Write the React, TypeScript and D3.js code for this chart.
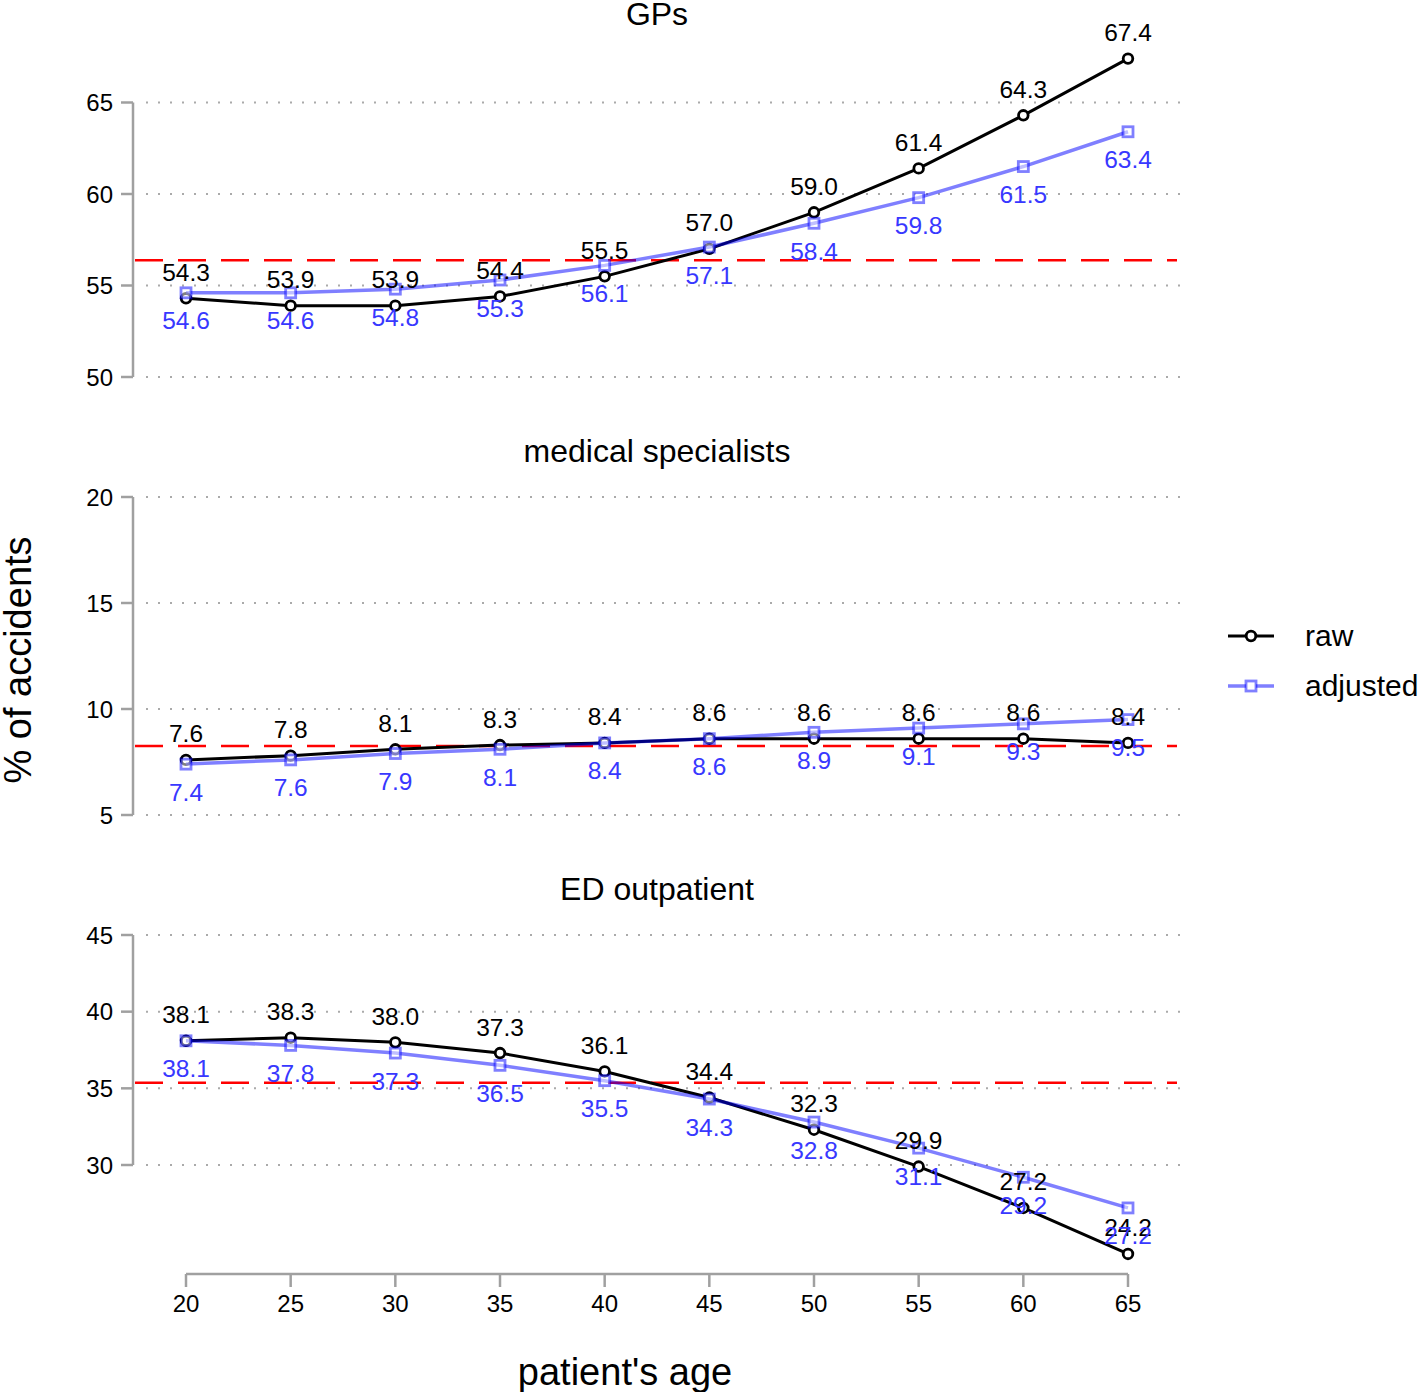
import React from "react";
import * as d3 from "d3";

const ages = [20, 25, 30, 35, 40, 45, 50, 55, 60, 65];

const gpRaw = [54.3, 53.9, 53.9, 54.4, 55.5, 57.0, 59.0, 61.4, 64.3, 67.4];
const gpAdjusted = [54.6, 54.6, 54.8, 55.3, 56.1, 57.1, 58.4, 59.8, 61.5, 63.4];
const specRaw = [7.6, 7.8, 8.1, 8.3, 8.4, 8.6, 8.6, 8.6, 8.6, 8.4];
const specAdjusted = [7.4, 7.6, 7.9, 8.1, 8.4, 8.6, 8.9, 9.1, 9.3, 9.5];
const edRaw = [38.1, 38.3, 38.0, 37.3, 36.1, 34.4, 32.3, 29.9, 27.2, 24.2];
const edAdjusted = [38.1, 37.8, 37.3, 36.5, 35.5, 34.3, 32.8, 31.1, 29.2, 27.2];

const panelTitles = ["GPs", "medical specialists", "ED outpatient"];
const yTicks = [
  [50, 55, 60, 65],
  [5, 10, 15, 20],
  [30, 35, 40, 45],
];
const overallMeans = [56.38, 8.25, 35.37];

const FONT = "'Liberation Sans', Arial, Helvetica, sans-serif";
const AXIS_GREY = "#a0a0a0";
const ADJ_LINE = "rgba(0,0,255,0.5)";
const ADJ_TEXT = "#3838ff";

const x = d3.scaleLinear().domain([20, 65]).range([186, 1128]);
const panelRanges: [number, number][] = [
  [377, 102.5],
  [815, 497],
  [1165, 935],
];
const titleBaselines = [25, 462, 900];

const plotLeft = 133;
const plotRight = 1181;

function Panel({ idx, raw, adj }: { idx: number; raw: number[]; adj: number[] }) {
  const ticks = yTicks[idx];
  const y = d3
    .scaleLinear()
    .domain([ticks[0], ticks[ticks.length - 1]])
    .range(panelRanges[idx]);
  const line = d3
    .line<number>()
    .x((_, i) => x(ages[i]))
    .y((d) => y(d));
  const top = y(ticks[ticks.length - 1]);
  const bottom = y(ticks[0]);

  return (
    <g>
      <text
        x={(plotLeft + plotRight) / 2}
        y={titleBaselines[idx]}
        textAnchor="middle"
        fontSize={32}
        fontFamily={FONT}
      >
        {panelTitles[idx]}
      </text>
      {ticks.map((t) => (
        <g key={t}>
          <line
            x1={146}
            x2={plotRight}
            y1={y(t)}
            y2={y(t)}
            stroke="#aaaaaa"
            strokeWidth={2}
            strokeDasharray="2,10"
          />
          <line x1={plotLeft - 12} x2={plotLeft} y1={y(t)} y2={y(t)} stroke={AXIS_GREY} strokeWidth={2.5} />
          <text
            x={113}
            y={y(t) + 8.5}
            textAnchor="end"
            fontSize={24}
            fontFamily={FONT}
          >
            {t}
          </text>
        </g>
      ))}
      <line x1={plotLeft} x2={plotLeft} y1={top} y2={bottom} stroke={AXIS_GREY} strokeWidth={2.5} />
      <line
        x1={135}
        x2={1177}
        y1={y(overallMeans[idx])}
        y2={y(overallMeans[idx])}
        stroke="red"
        strokeWidth={2.5}
        strokeDasharray="28,15"
      />
      <path d={line(raw) || ""} fill="none" stroke="black" strokeWidth={3} />
      {raw.map((v, i) => (
        <circle key={i} cx={x(ages[i])} cy={y(v)} r={4.8} fill="white" stroke="black" strokeWidth={2.8} />
      ))}
      <path d={line(adj) || ""} fill="none" stroke={ADJ_LINE} strokeWidth={3.5} />
      {adj.map((v, i) => (
        <rect
          key={i}
          x={x(ages[i]) - 5}
          y={y(v) - 5}
          width={10}
          height={10}
          fill="rgba(255,255,255,0.5)"
          stroke={ADJ_LINE}
          strokeWidth={2.8}
        />
      ))}
      {raw.map((v, i) => (
        <text
          key={i}
          x={x(ages[i])}
          y={y(v) - 17.5}
          textAnchor="middle"
          fontSize={24.5}
          fontFamily={FONT}
          fill="black"
        >
          {v.toFixed(1)}
        </text>
      ))}
      {adj.map((v, i) => (
        <text
          key={i}
          x={x(ages[i])}
          y={y(v) + 36.5}
          textAnchor="middle"
          fontSize={24.5}
          fontFamily={FONT}
          fill={ADJ_TEXT}
        >
          {v.toFixed(1)}
        </text>
      ))}
    </g>
  );
}

export default function App() {
  return (
    <svg
      width={1418}
      height={1392}
      style={{ position: "absolute", left: 0, top: 0, background: "white" }}
    >
      <Panel idx={0} raw={gpRaw} adj={gpAdjusted} />
      <Panel idx={1} raw={specRaw} adj={specAdjusted} />
      <Panel idx={2} raw={edRaw} adj={edAdjusted} />

      {/* x axis */}
      <line x1={x(20)} x2={x(65)} y1={1274} y2={1274} stroke={AXIS_GREY} strokeWidth={2.5} />
      {ages.map((a) => (
        <g key={a}>
          <line x1={x(a)} x2={x(a)} y1={1274} y2={1287} stroke={AXIS_GREY} strokeWidth={2.5} />
          <text x={x(a)} y={1312} textAnchor="middle" fontSize={24} fontFamily={FONT}>
            {a}
          </text>
        </g>
      ))}
      <text x={625} y={1385} textAnchor="middle" fontSize={38} fontFamily={FONT}>
        patient's age
      </text>
      <text
        transform="translate(31,660) rotate(-90)"
        textAnchor="middle"
        fontSize={38}
        fontFamily={FONT}
      >
        % of accidents
      </text>

      {/* legend */}
      <line x1={1228} x2={1274} y1={636} y2={636} stroke="black" strokeWidth={3} />
      <circle cx={1251} cy={636} r={4.8} fill="white" stroke="black" strokeWidth={2.8} />
      <text x={1305} y={646} fontSize={30} fontFamily={FONT}>
        raw
      </text>
      <line x1={1228} x2={1274} y1={686} y2={686} stroke={ADJ_LINE} strokeWidth={3.5} />
      <rect x={1246} y={681} width={10} height={10} fill="white" stroke={ADJ_LINE} strokeWidth={2.8} />
      <text x={1305} y={696} fontSize={30} fontFamily={FONT}>
        adjusted
      </text>
    </svg>
  );
}
